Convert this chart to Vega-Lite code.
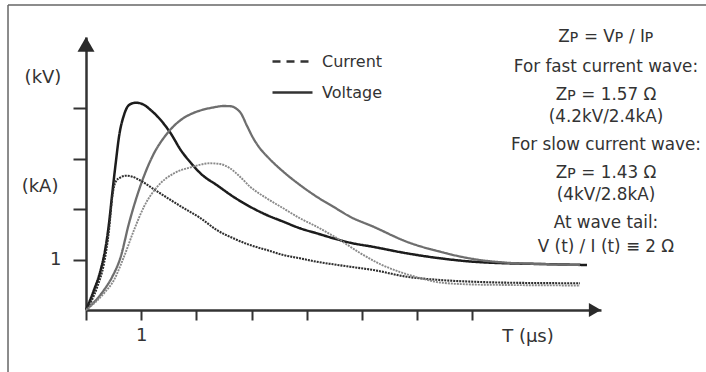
{
  "$schema": "https://vega.github.io/schema/vega-lite/v6.json",
  "width": 515,
  "height": 273,
  "autosize": {"type": "none"},
  "padding": {"left": 86, "top": 37, "right": 105, "bottom": 62},
  "background": "white",
  "config": {
    "view": {"stroke": null},
    "font": "DejaVu Sans",
    "text": {"font": "DejaVu Sans", "color": "#333333"}
  },
  "resolve": {"scale": {"strokeDash": "independent"}, "legend": {"strokeDash": "independent"}},
  "datasets": {
    "curves": [
      {"series": "Fast voltage", "quantity": "Voltage", "t": 0, "v": 0},
      {"series": "Fast voltage", "quantity": "Voltage", "t": 0.145, "v": 0.396},
      {"series": "Fast voltage", "quantity": "Voltage", "t": 0.266, "v": 0.792},
      {"series": "Fast voltage", "quantity": "Voltage", "t": 0.357, "v": 1.253},
      {"series": "Fast voltage", "quantity": "Voltage", "t": 0.417, "v": 1.717},
      {"series": "Fast voltage", "quantity": "Voltage", "t": 0.476, "v": 2.311},
      {"series": "Fast voltage", "quantity": "Voltage", "t": 0.538, "v": 2.905},
      {"series": "Fast voltage", "quantity": "Voltage", "t": 0.598, "v": 3.432},
      {"series": "Fast voltage", "quantity": "Voltage", "t": 0.688, "v": 3.861},
      {"series": "Fast voltage", "quantity": "Voltage", "t": 0.779, "v": 4.059},
      {"series": "Fast voltage", "quantity": "Voltage", "t": 0.9, "v": 4.105},
      {"series": "Fast voltage", "quantity": "Voltage", "t": 1.02, "v": 4.079},
      {"series": "Fast voltage", "quantity": "Voltage", "t": 1.172, "v": 3.96},
      {"series": "Fast voltage", "quantity": "Voltage", "t": 1.353, "v": 3.762},
      {"series": "Fast voltage", "quantity": "Voltage", "t": 1.534, "v": 3.499},
      {"series": "Fast voltage", "quantity": "Voltage", "t": 1.716, "v": 3.168},
      {"series": "Fast voltage", "quantity": "Voltage", "t": 1.897, "v": 2.917},
      {"series": "Fast voltage", "quantity": "Voltage", "t": 2.107, "v": 2.673},
      {"series": "Fast voltage", "quantity": "Voltage", "t": 2.368, "v": 2.475},
      {"series": "Fast voltage", "quantity": "Voltage", "t": 2.668, "v": 2.244},
      {"series": "Fast voltage", "quantity": "Voltage", "t": 2.971, "v": 2.046},
      {"series": "Fast voltage", "quantity": "Voltage", "t": 3.274, "v": 1.881},
      {"series": "Fast voltage", "quantity": "Voltage", "t": 3.574, "v": 1.749},
      {"series": "Fast voltage", "quantity": "Voltage", "t": 3.877, "v": 1.618},
      {"series": "Fast voltage", "quantity": "Voltage", "t": 4.179, "v": 1.519},
      {"series": "Fast voltage", "quantity": "Voltage", "t": 4.48, "v": 1.42},
      {"series": "Fast voltage", "quantity": "Voltage", "t": 4.783, "v": 1.333},
      {"series": "Fast voltage", "quantity": "Voltage", "t": 5.205, "v": 1.25},
      {"series": "Fast voltage", "quantity": "Voltage", "t": 5.81, "v": 1.123},
      {"series": "Fast voltage", "quantity": "Voltage", "t": 6.413, "v": 1.024},
      {"series": "Fast voltage", "quantity": "Voltage", "t": 7.016, "v": 0.956},
      {"series": "Fast voltage", "quantity": "Voltage", "t": 7.621, "v": 0.925},
      {"series": "Fast voltage", "quantity": "Voltage", "t": 8.225, "v": 0.911},
      {"series": "Fast voltage", "quantity": "Voltage", "t": 9.076, "v": 0.891},

      {"series": "Slow voltage", "quantity": "Voltage", "t": 0, "v": 0},
      {"series": "Slow voltage", "quantity": "Voltage", "t": 0.326, "v": 0.396},
      {"series": "Slow voltage", "quantity": "Voltage", "t": 0.476, "v": 0.659},
      {"series": "Slow voltage", "quantity": "Voltage", "t": 0.629, "v": 1.055},
      {"series": "Slow voltage", "quantity": "Voltage", "t": 0.779, "v": 1.717},
      {"series": "Slow voltage", "quantity": "Voltage", "t": 0.96, "v": 2.376},
      {"series": "Slow voltage", "quantity": "Voltage", "t": 1.201, "v": 3.036},
      {"series": "Slow voltage", "quantity": "Voltage", "t": 1.473, "v": 3.499},
      {"series": "Slow voltage", "quantity": "Voltage", "t": 1.716, "v": 3.762},
      {"series": "Slow voltage", "quantity": "Voltage", "t": 1.9, "v": 3.88},
      {"series": "Slow voltage", "quantity": "Voltage", "t": 2.1, "v": 3.96},
      {"series": "Slow voltage", "quantity": "Voltage", "t": 2.3, "v": 4.01},
      {"series": "Slow voltage", "quantity": "Voltage", "t": 2.5, "v": 4.04},
      {"series": "Slow voltage", "quantity": "Voltage", "t": 2.62, "v": 4.035},
      {"series": "Slow voltage", "quantity": "Voltage", "t": 2.72, "v": 3.99},
      {"series": "Slow voltage", "quantity": "Voltage", "t": 2.81, "v": 3.89},
      {"series": "Slow voltage", "quantity": "Voltage", "t": 2.911, "v": 3.66},
      {"series": "Slow voltage", "quantity": "Voltage", "t": 3.031, "v": 3.4},
      {"series": "Slow voltage", "quantity": "Voltage", "t": 3.152, "v": 3.2},
      {"series": "Slow voltage", "quantity": "Voltage", "t": 3.274, "v": 3.05},
      {"series": "Slow voltage", "quantity": "Voltage", "t": 3.574, "v": 2.739},
      {"series": "Slow voltage", "quantity": "Voltage", "t": 3.877, "v": 2.475},
      {"series": "Slow voltage", "quantity": "Voltage", "t": 4.179, "v": 2.244},
      {"series": "Slow voltage", "quantity": "Voltage", "t": 4.48, "v": 2.046},
      {"series": "Slow voltage", "quantity": "Voltage", "t": 4.783, "v": 1.848},
      {"series": "Slow voltage", "quantity": "Voltage", "t": 5.205, "v": 1.65},
      {"series": "Slow voltage", "quantity": "Voltage", "t": 5.81, "v": 1.352},
      {"series": "Slow voltage", "quantity": "Voltage", "t": 6.413, "v": 1.154},
      {"series": "Slow voltage", "quantity": "Voltage", "t": 7.016, "v": 1.01},
      {"series": "Slow voltage", "quantity": "Voltage", "t": 7.621, "v": 0.937},
      {"series": "Slow voltage", "quantity": "Voltage", "t": 8.225, "v": 0.911},
      {"series": "Slow voltage", "quantity": "Voltage", "t": 8.949, "v": 0.891},

      {"series": "Fast current", "quantity": "Current", "t": 0, "v": 0},
      {"series": "Fast current", "quantity": "Current", "t": 0.205, "v": 0.461},
      {"series": "Fast current", "quantity": "Current", "t": 0.326, "v": 0.925},
      {"series": "Fast current", "quantity": "Current", "t": 0.417, "v": 1.584},
      {"series": "Fast current", "quantity": "Current", "t": 0.476, "v": 2.244},
      {"series": "Fast current", "quantity": "Current", "t": 0.538, "v": 2.541},
      {"series": "Fast current", "quantity": "Current", "t": 0.629, "v": 2.628},
      {"series": "Fast current", "quantity": "Current", "t": 0.719, "v": 2.659},
      {"series": "Fast current", "quantity": "Current", "t": 0.839, "v": 2.64},
      {"series": "Fast current", "quantity": "Current", "t": 0.991, "v": 2.56},
      {"series": "Fast current", "quantity": "Current", "t": 1.232, "v": 2.39},
      {"series": "Fast current", "quantity": "Current", "t": 1.534, "v": 2.178},
      {"series": "Fast current", "quantity": "Current", "t": 1.775, "v": 2.014},
      {"series": "Fast current", "quantity": "Current", "t": 2.078, "v": 1.816},
      {"series": "Fast current", "quantity": "Current", "t": 2.368, "v": 1.584},
      {"series": "Fast current", "quantity": "Current", "t": 2.668, "v": 1.42},
      {"series": "Fast current", "quantity": "Current", "t": 2.971, "v": 1.287},
      {"series": "Fast current", "quantity": "Current", "t": 3.274, "v": 1.188},
      {"series": "Fast current", "quantity": "Current", "t": 3.574, "v": 1.089},
      {"series": "Fast current", "quantity": "Current", "t": 3.877, "v": 1.024},
      {"series": "Fast current", "quantity": "Current", "t": 4.179, "v": 0.956},
      {"series": "Fast current", "quantity": "Current", "t": 4.48, "v": 0.905},
      {"series": "Fast current", "quantity": "Current", "t": 4.783, "v": 0.857},
      {"series": "Fast current", "quantity": "Current", "t": 5.205, "v": 0.792},
      {"series": "Fast current", "quantity": "Current", "t": 5.81, "v": 0.659},
      {"series": "Fast current", "quantity": "Current", "t": 6.413, "v": 0.594},
      {"series": "Fast current", "quantity": "Current", "t": 7.016, "v": 0.56},
      {"series": "Fast current", "quantity": "Current", "t": 7.621, "v": 0.541},
      {"series": "Fast current", "quantity": "Current", "t": 8.949, "v": 0.529},

      {"series": "Slow current", "quantity": "Current", "t": 0, "v": 0},
      {"series": "Slow current", "quantity": "Current", "t": 0.326, "v": 0.331},
      {"series": "Slow current", "quantity": "Current", "t": 0.507, "v": 0.594},
      {"series": "Slow current", "quantity": "Current", "t": 0.688, "v": 1.055},
      {"series": "Slow current", "quantity": "Current", "t": 0.87, "v": 1.584},
      {"series": "Slow current", "quantity": "Current", "t": 1.051, "v": 2.046},
      {"series": "Slow current", "quantity": "Current", "t": 1.292, "v": 2.442},
      {"series": "Slow current", "quantity": "Current", "t": 1.594, "v": 2.707},
      {"series": "Slow current", "quantity": "Current", "t": 1.897, "v": 2.826},
      {"series": "Slow current", "quantity": "Current", "t": 2.246, "v": 2.905},
      {"series": "Slow current", "quantity": "Current", "t": 2.428, "v": 2.891},
      {"series": "Slow current", "quantity": "Current", "t": 2.609, "v": 2.806},
      {"series": "Slow current", "quantity": "Current", "t": 2.79, "v": 2.64},
      {"series": "Slow current", "quantity": "Current", "t": 2.971, "v": 2.442},
      {"series": "Slow current", "quantity": "Current", "t": 3.274, "v": 2.212},
      {"series": "Slow current", "quantity": "Current", "t": 3.574, "v": 2.014},
      {"series": "Slow current", "quantity": "Current", "t": 3.877, "v": 1.816},
      {"series": "Slow current", "quantity": "Current", "t": 4.179, "v": 1.65},
      {"series": "Slow current", "quantity": "Current", "t": 4.601, "v": 1.386},
      {"series": "Slow current", "quantity": "Current", "t": 4.964, "v": 1.129},
      {"series": "Slow current", "quantity": "Current", "t": 5.326, "v": 0.911},
      {"series": "Slow current", "quantity": "Current", "t": 5.688, "v": 0.752},
      {"series": "Slow current", "quantity": "Current", "t": 6.051, "v": 0.634},
      {"series": "Slow current", "quantity": "Current", "t": 6.413, "v": 0.545},
      {"series": "Slow current", "quantity": "Current", "t": 7.01, "v": 0.505},
      {"series": "Slow current", "quantity": "Current", "t": 7.627, "v": 0.495},
      {"series": "Slow current", "quantity": "Current", "t": 8.949, "v": 0.485}
    ],
    "notes": [
      {"label": "Zᴘ = Vᴘ / Iᴘ", "t": 9.42, "v": 5.406},
      {"label": "For fast current wave:", "t": 9.42, "v": 4.812},
      {"label": "Zᴘ = 1.57 Ω", "t": 9.42, "v": 4.257},
      {"label": "(4.2kV/2.4kA)", "t": 9.42, "v": 3.822},
      {"label": "For slow current wave:", "t": 9.42, "v": 3.267},
      {"label": "Zᴘ = 1.43 Ω", "t": 9.42, "v": 2.713},
      {"label": "(4kV/2.8kA)", "t": 9.42, "v": 2.277},
      {"label": "At wave tail:", "t": 9.42, "v": 1.729},
      {"label": "V (t) / I (t)  ≡  2 Ω", "t": 9.42, "v": 1.248}
    ],
    "titles": [
      {"label": "(kV)", "t": -0.779, "v": 4.594},
      {"label": "(kA)", "t": -0.833, "v": 2.436},
      {"label": "T (µs)", "t": 8.007, "v": -0.535}
    ]
  },
  "layer": [
    {
      "data": {"values": [{}]},
      "mark": {"type": "rule", "color": "#666666", "strokeWidth": 1.5},
      "encoding": {
        "x": {"datum": -1.413, "type": "quantitative", "scale": {"domain": [0, 9.33], "nice": false, "zero": false}},
        "x2": {"datum": 11.3},
        "y": {"datum": 6.04, "type": "quantitative", "scale": {"domain": [0, 5.406], "nice": false, "zero": false}}
      }
    },
    {
      "data": {"values": [{}]},
      "mark": {"type": "rule", "color": "#666666", "strokeWidth": 1.5},
      "encoding": {
        "x": {"datum": -1.413, "type": "quantitative"},
        "y": {"datum": 6.04, "type": "quantitative"},
        "y2": {"datum": -1.3}
      }
    },
    {
      "data": {"name": "curves"},
      "mark": {"type": "line", "interpolate": "monotone", "strokeCap": "butt"},
      "encoding": {
        "x": {
          "field": "t", "type": "quantitative",
          "axis": {
            "title": null, "values": [0, 1, 2, 3, 4, 5, 6, 7],
            "labelExpr": "datum.value == 1 ? '1' : ''",
            "grid": false, "domainColor": "#333333", "domainWidth": 2.5,
            "tickColor": "#333333", "tickWidth": 2, "tickSize": 10,
            "labelFont": "DejaVu Sans", "labelFontSize": 18, "labelColor": "#333333",
            "labelPadding": 6, "labelFlush": false, "labelOverlap": false
          }
        },
        "y": {
          "field": "v", "type": "quantitative",
          "axis": {
            "title": null, "values": [1, 2, 3, 4],
            "labelExpr": "datum.value == 1 ? '1' : ''",
            "grid": false, "domainColor": "#333333", "domainWidth": 2.5,
            "tickColor": "#333333", "tickWidth": 2, "tickSize": 13,
            "labelFont": "DejaVu Sans", "labelFontSize": 18, "labelColor": "#333333",
            "labelPadding": 12, "labelFlush": false, "labelOverlap": false
          }
        },
        "detail": {"field": "series"},
        "color": {
          "field": "series", "type": "nominal", "legend": null,
          "scale": {"domain": ["Fast voltage", "Slow voltage", "Fast current", "Slow current"], "range": ["#1c1c1c", "#6e6e6e", "#2e2e2e", "#8a8a8a"]}
        },
        "strokeWidth": {
          "field": "series", "type": "nominal", "legend": null,
          "scale": {"domain": ["Fast voltage", "Slow voltage", "Fast current", "Slow current"], "range": [2.5, 1.9, 2.4, 2.2]}
        },
        "strokeDash": {
          "field": "quantity", "type": "nominal", "legend": null,
          "scale": {"domain": ["Current", "Voltage"], "range": [[2, 1], [1, 0]]}
        }
      }
    },
    {
      "data": {"name": "curves"},
      "mark": {"type": "line", "opacity": 0, "color": "#333333"},
      "encoding": {
        "x": {"field": "t", "type": "quantitative"},
        "y": {"field": "v", "type": "quantitative"},
        "detail": {"field": "series"},
        "strokeDash": {
          "field": "quantity", "type": "nominal",
          "scale": {"domain": ["Current", "Voltage"], "range": [[8, 6], [1, 0]]},
          "legend": {
            "title": null, "orient": "none", "legendX": 185, "legendY": 10,
            "symbolType": "stroke", "symbolSize": 1600, "symbolStrokeWidth": 2.4,
            "symbolStrokeColor": "#333333", "symbolOpacity": 1, "labelFont": "DejaVu Sans", "labelFontSize": 16,
            "labelColor": "#333333", "labelOffset": 8, "clipHeight": 29, "rowPadding": 2, "padding": 0
          }
        }
      }
    },
    {
      "data": {"values": [{}]},
      "mark": {"type": "point", "shape": "triangle-up", "filled": true, "size": 289, "color": "#2a2a2a", "opacity": 1},
      "encoding": {
        "x": {"datum": 0, "type": "quantitative"},
        "y": {"datum": 5.26, "type": "quantitative"}
      }
    },
    {
      "data": {"values": [{}]},
      "mark": {"type": "point", "shape": "triangle-right", "filled": true, "size": 196, "color": "#2a2a2a", "opacity": 1},
      "encoding": {
        "x": {"datum": 9.22, "type": "quantitative"},
        "y": {"datum": 0, "type": "quantitative"}
      }
    },
    {
      "data": {"name": "notes"},
      "mark": {"type": "text", "fontSize": 16.8, "align": "center", "baseline": "middle"},
      "encoding": {
        "x": {"field": "t", "type": "quantitative"},
        "y": {"field": "v", "type": "quantitative"},
        "text": {"field": "label"}
      }
    },
    {
      "data": {"name": "titles"},
      "mark": {"type": "text", "fontSize": 18, "align": "center", "baseline": "middle"},
      "encoding": {
        "x": {"field": "t", "type": "quantitative"},
        "y": {"field": "v", "type": "quantitative"},
        "text": {"field": "label"}
      }
    }
  ]
}
